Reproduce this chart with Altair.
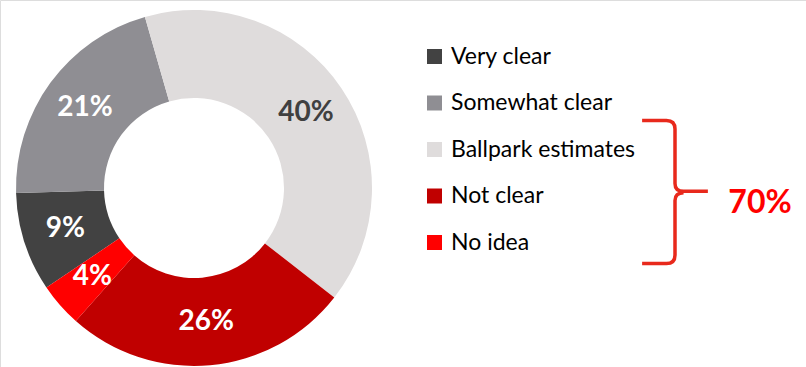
import math
import altair as alt
import pandas as pd

# Survey responses, in legend order
categories = ["Very clear", "Somewhat clear", "Ballpark estimates", "Not clear", "No idea"]
shares = [9, 21, 40, 26, 4]
colors = ["#424242", "#8F8E93", "#DFDCDC", "#C00000", "#FF0000"]
label_colors = ["white", "white", "#404040", "white", "white"]
# Clockwise drawing order, starting just left of 12 o'clock
ring_order = [3, 4, 0, 1, 2]

# Share of respondents without a clear picture
unclear = ["Ballpark estimates", "Not clear", "No idea"]
unclear_total = sum(s for c, s in zip(categories, shares) if c in unclear)

df = pd.DataFrame({
    "category": categories,
    "share": shares,
    "label": [f"{s}%" for s in shares],
    "label_color": label_colors,
    "ring_order": ring_order,
})

start = math.radians(-16)
theta_scale = alt.Scale(range=[start, start + 2 * math.pi])

base = alt.Chart(df).encode(
    theta=alt.Theta("share:Q", stack=True, scale=theta_scale),
    order=alt.Order("ring_order:Q", sort="ascending"),
)

ring = base.mark_arc(innerRadius=90, outerRadius=178).encode(
    x=alt.value(194),
    y=alt.value(188),
    color=alt.Color(
        "category:N",
        scale=alt.Scale(domain=categories, range=colors),
        sort=categories,
        legend=alt.Legend(
            title=None,
            orient="none",
            legendX=423,
            legendY=45,
            symbolType="square",
            symbolSize=225,
            symbolStrokeWidth=0,
            labelFont="Lato",
            labelFontSize=23,
            labelColor="#000000",
            labelOffset=5,
            rowPadding=22.5,
            labelLimit=300,
        ),
    ),
)

labels = base.mark_text(
    radius=135, font="Lato", fontSize=28, fontWeight="bold"
).encode(
    x=alt.value(194),
    y=alt.value(188),
    text="label:N",
    color=alt.Color("label_color:N", scale=None),
)

# Curly brace grouping the last three answers
brace_path = (
    "M -0.46 -1 L -0.12 -1 Q 0 -1 0 -0.88 L 0 -0.12 Q 0 -0.01 0.12 -0.01 L 0.46 -0.01 "
    "M 0.12 0.01 Q 0 0.01 0 0.12 L 0 0.88 Q 0 1 -0.12 1 L -0.46 1"
)
note_df = pd.DataFrame({"total": [f"{unclear_total}%"]})
brace = alt.Chart(note_df).mark_point(
    shape=brace_path, filled=False, stroke="#E8291C", strokeWidth=3.5, size=143 ** 2, opacity=1
).encode(x=alt.value(675), y=alt.value(192))

total_text = alt.Chart(note_df).mark_text(
    font="Lato", fontSize=32, fontWeight="bold", color="#FF0000", align="center", baseline="middle"
).encode(x=alt.value(760), y=alt.value(203), text="total:N")

chart = (
    alt.layer(ring, labels, brace, total_text)
    .properties(width=806, height=367, padding=0, autosize=alt.AutoSizeParams(type="none"))
    .configure_view(stroke=None)
    .configure(background="white")
)

chart.save("out.html", embed_options={"renderer": "svg", "actions": False})
